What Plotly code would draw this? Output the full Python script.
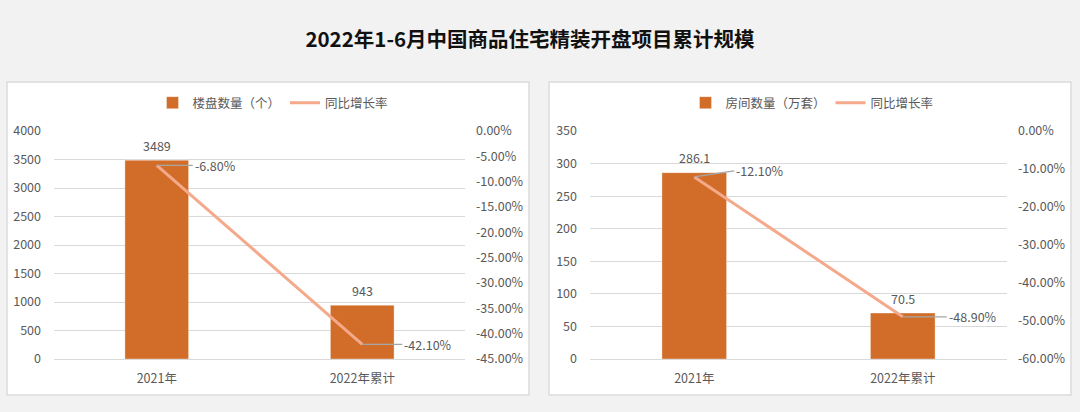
import plotly.graph_objects as go

# ---------------- data ----------------
categories = ["2021年", "2022年累计"]
projects = [3489, 943]                 # 楼盘数量（个）
projects_growth = [-6.8, -42.1]        # 同比增长率 (%)
rooms = [286.1, 70.5]                  # 房间数量（万套）
rooms_growth = [-12.1, -48.9]          # 同比增长率 (%)

left_ticks = [0, 500, 1000, 1500, 2000, 2500, 3000, 3500, 4000]
left_pct_ticks = [0, -5, -10, -15, -20, -25, -30, -35, -40, -45]
right_ticks = [0, 50, 100, 150, 200, 250, 300, 350]
right_pct_ticks = [0, -10, -20, -30, -40, -50, -60]

title = "2022年1-6月中国商品住宅精装开盘项目累计规模"

# ---------------- style ----------------
FONT = "Noto Sans CJK SC, Microsoft YaHei, sans-serif"
TXT = "#595959"
BAR = "#D26D29"
LINE = "#F5A98B"
GRID = "#D9D9D9"
FS = 12.5
W, H = 1080, 412


def pct_text(v):
    return f"{v:.2f}%"


fig = go.Figure()

# left chart
fig.add_trace(go.Bar(
    x=categories, y=projects, name="楼盘数量（个）",
    marker=dict(color=BAR, line=dict(color="rgba(255,255,255,0.35)", width=1)),
    width=0.31, xaxis="x", yaxis="y", legend="legend"))
fig.add_trace(go.Scatter(
    x=categories, y=projects_growth, name="同比增长率", mode="lines",
    line=dict(color=LINE, width=3), xaxis="x", yaxis="y2", legend="legend"))

# right chart
fig.add_trace(go.Bar(
    x=categories, y=rooms, name="房间数量（万套）",
    marker=dict(color=BAR, line=dict(color="rgba(255,255,255,0.35)", width=1)),
    width=0.31, xaxis="x2", yaxis="y3", legend="legend2"))
fig.add_trace(go.Scatter(
    x=categories, y=rooms_growth, name="同比增长率", mode="lines",
    line=dict(color=LINE, width=3), xaxis="x2", yaxis="y4", legend="legend2"))

annotations = []

# bar value labels (above the bars)
for xref, yref, vals, fmt in [("x", "y", projects, "{:d}"),
                              ("x2", "y3", rooms, "{:.1f}")]:
    for c, v in zip(categories, vals):
        annotations.append(dict(
            x=c, y=v, xref=xref, yref=yref, text=fmt.format(v),
            showarrow=False, yanchor="middle", yshift=15,
            font=dict(color=TXT, size=FS, family=FONT)))

# line data labels with leader lines
for xref, yref, vals, offs in [
    ("x", "y2", projects_growth, [(36, 0), (40, 0)]),
    ("x2", "y4", rooms_growth, [(40, -6), (44, 0)]),
]:
    for c, v, (ax, ay) in zip(categories, vals, offs):
        annotations.append(dict(
            x=c, y=v, xref=xref, yref=yref, text=pct_text(v),
            showarrow=True, arrowhead=0, arrowwidth=1.3, arrowcolor="#A6A6A6",
            ax=ax, ay=ay, axref="pixel", ayref="pixel", xanchor="left",
            standoff=0, font=dict(color=TXT, size=FS, family=FONT)))

# panel backgrounds
shapes = []
for x0, x1 in [(7, 529), (549, 1071)]:
    shapes.append(dict(
        type="rect", xref="paper", yref="paper", layer="below",
        x0=x0 / W, x1=x1 / W, y0=1 - 395 / H, y1=1 - 82 / H,
        fillcolor="white", line=dict(color="#DCDCDC", width=1.5)))

ydom = [1 - 359 / H, 1 - 131 / H]
tickfont = dict(color=TXT, size=FS, family=FONT)

fig.update_layout(
    template="none",
    width=W, height=H, autosize=False,
    margin=dict(l=0, r=0, t=0, b=0, pad=0, autoexpand=False),
    paper_bgcolor="#F2F2F2", plot_bgcolor="rgba(0,0,0,0)",
    font=dict(family=FONT, color=TXT, size=FS),
    title=dict(text=f"<b>{title}</b>", x=530 / W, xanchor="center",
               y=1 - 40 / H, yanchor="middle", automargin=False,
               font=dict(size=20.5, color="#111111", family=FONT)),
    showlegend=True,
    legend=dict(orientation="h", x=273 / W, xanchor="center",
                y=1 - 103 / H, yanchor="middle",
                font=dict(color=TXT, size=FS, family=FONT),
                bgcolor="rgba(0,0,0,0)", itemwidth=30),
    legend2=dict(orientation="h", x=812 / W, xanchor="center",
                 y=1 - 103 / H, yanchor="middle",
                 font=dict(color=TXT, size=FS, family=FONT),
                 bgcolor="rgba(0,0,0,0)", itemwidth=30),
    xaxis=dict(domain=[54 / W, 465 / W], anchor="y", showgrid=False,
               showline=False, zeroline=False, tickfont=tickfont,
               ticks="", ticklabelstandoff=10, automargin=False),
    yaxis=dict(domain=ydom, anchor="x", range=[0, 4000],
               tickvals=left_ticks, ticktext=[str(t) for t in left_ticks],
               showgrid=True, gridcolor=GRID, gridwidth=1,
               zeroline=True, zerolinecolor=GRID, zerolinewidth=1,
               showline=False, ticks="", tickfont=tickfont,
               ticklabelstandoff=12, automargin=False),
    yaxis2=dict(overlaying="y", side="right", anchor="x", range=[-45, 0],
                tickvals=left_pct_ticks,
                ticktext=[pct_text(t) for t in left_pct_ticks],
                showgrid=False, zeroline=False, showline=False, ticks="",
                tickfont=tickfont, ticklabelstandoff=10, automargin=False),
    xaxis2=dict(domain=[590 / W, 1007 / W], anchor="y3", showgrid=False,
                showline=False, zeroline=False, tickfont=tickfont,
                ticks="", ticklabelstandoff=10, automargin=False),
    yaxis3=dict(domain=ydom, anchor="x2", range=[0, 350],
                tickvals=right_ticks, ticktext=[str(t) for t in right_ticks],
                showgrid=True, gridcolor=GRID, gridwidth=1,
                zeroline=True, zerolinecolor=GRID, zerolinewidth=1,
                showline=False, ticks="", tickfont=tickfont,
                ticklabelstandoff=12, automargin=False),
    yaxis4=dict(overlaying="y3", side="right", anchor="x2", range=[-60, 0],
                tickvals=right_pct_ticks,
                ticktext=[pct_text(t) for t in right_pct_ticks],
                showgrid=False, zeroline=False, showline=False, ticks="",
                tickfont=tickfont, ticklabelstandoff=10, automargin=False),
    annotations=annotations,
    shapes=shapes,
)

fig.write_html("out.html")
